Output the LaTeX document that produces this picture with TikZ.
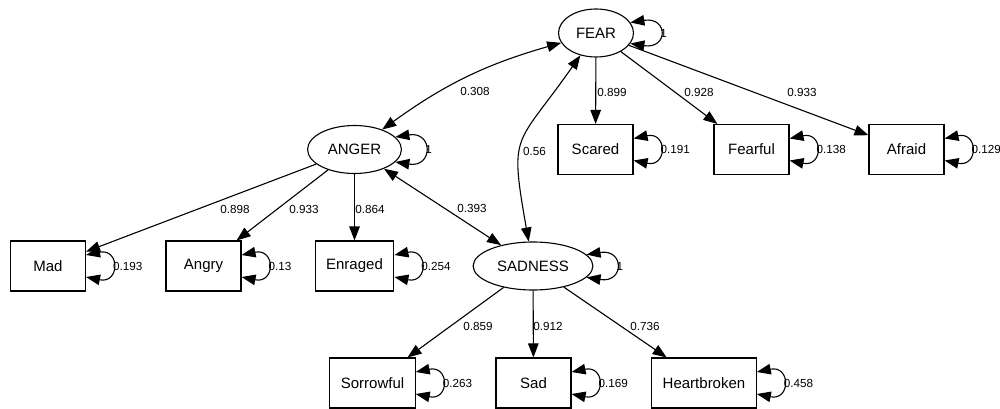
\documentclass[tikz,border=0pt]{standalone}
\usepackage{fontspec}
\setmainfont{Liberation Sans}
\usetikzlibrary{shapes, arrows.meta, positioning, calc}

\begin{document}
\begin{tikzpicture}[x=1pt, y=-1pt, line width=1.1pt,
    >={Triangle[length=14pt, width=10.5pt]},
    latent/.style={ellipse, draw, minimum height=48pt, inner xsep=6.5pt, font=\fontsize{15}{18}\selectfont},
    item/.style={rectangle, draw, minimum width=75pt, minimum height=50pt, inner xsep=11pt, font=\fontsize{15}{18}\selectfont},
    coef/.style={font=\fontsize{11.7}{14}\selectfont, inner sep=1pt}]
                \fill[white] (0,0) rectangle (1000,409);
                \useasboundingbox (0,0) rectangle (1000,409);
                % latent factors
                \node[latent] (fear) at (596,33) {FEAR};
                \node[latent] (anger) at (354.5,149.5) {ANGER};
                \node[latent] (sadness) at (533,266) {SADNESS};
                % indicators
                \node[item] (scared) at (595.5,149.5) {Scared};
                \node[item] (fearful) at (751.5,149.5) {Fearful};
                \node[item] (afraid) at (906.5,149.5) {Afraid};
                \node[item] (mad) at (48,266) {Mad};
                \node[item] (angry) at (203.5,266) {Angry};
                \node[item] (enraged) at (354.5,266) {Enraged};
                \node[item] (sorrowful) at (372.5,383) {Sorrowful};
                \node[item] (sad) at (533.5,383) {Sad};
                \node[item] (heartbroken) at (704,383) {Heartbroken};
                % covariances
                \draw[<->] (anger) to[bend left=10] (fear);
                \draw[<->] (sadness) to[out=100, in=235, looseness=1.5] (fear);
                \draw[<->] (anger) -- (sadness);
                % loadings
                \draw[->] (fear) -- (scared);
                \draw[->] (fear) -- (fearful);
                \draw[->] (fear) -- (afraid);
                \draw[->] (anger) -- (mad);
                \draw[->] (anger) -- (angry);
                \draw[->] (anger) -- (enraged);
                \draw[->] (sadness) -- (sorrowful);
                \draw[->] (sadness) -- (sad);
                \draw[->] (sadness) -- (heartbroken);
                \node[coef] (c308) at (475,91) {0.308};
                \node[coef] (c56) at (534.5,151) {0.56};
                \node[coef] (c899) at (612,92) {0.899};
                \node[coef] (c928) at (699,92) {0.928};
                \node[coef] (c933f) at (802,92) {0.933};
                \node[coef] (c898) at (235,209) {0.898};
                \node[coef] (c933a) at (304,209) {0.933};
                \node[coef] (c864) at (370,209) {0.864};
                \node[coef] (c393) at (472,208) {0.393};
                \node[coef] (c859) at (478,326) {0.859};
                \node[coef] (c912) at (548,326) {0.912};
                \node[coef] (c736) at (645,326) {0.736};
                % variances
                \draw[<->] (fear.17) .. controls +(38pt,6pt) and +(38pt,-6pt) .. (fear.-17) node[pos=0.5, coef, anchor=west] {1};
                \draw[<->] (anger.17) .. controls +(38pt,6pt) and +(38pt,-6pt) .. (anger.-17) node[pos=0.5, coef, anchor=west] {1};
                \draw[<->] (sadness.12) .. controls +(38pt,6pt) and +(38pt,-6pt) .. (sadness.-12) node[pos=0.5, coef, anchor=west] {1};
                \draw[<->] ([yshift=11pt]scared.east) .. controls +(34pt,7pt) and +(34pt,-7pt) .. ([yshift=-11pt]scared.east) node[pos=0.5, coef, anchor=west] {0.191};
                \draw[<->] ([yshift=11pt]fearful.east) .. controls +(34pt,7pt) and +(34pt,-7pt) .. ([yshift=-11pt]fearful.east) node[pos=0.5, coef, anchor=west] {0.138};
                \draw[<->] ([yshift=11pt]afraid.east) .. controls +(34pt,7pt) and +(34pt,-7pt) .. ([yshift=-11pt]afraid.east) node[pos=0.5, coef, anchor=west] {0.129};
                \draw[<->] ([yshift=11pt]mad.east) .. controls +(34pt,7pt) and +(34pt,-7pt) .. ([yshift=-11pt]mad.east) node[pos=0.5, coef, anchor=west] {0.193};
                \draw[<->] ([yshift=11pt]angry.east) .. controls +(34pt,7pt) and +(34pt,-7pt) .. ([yshift=-11pt]angry.east) node[pos=0.5, coef, anchor=west] {0.13};
                \draw[<->] ([yshift=11pt]enraged.east) .. controls +(34pt,7pt) and +(34pt,-7pt) .. ([yshift=-11pt]enraged.east) node[pos=0.5, coef, anchor=west] {0.254};
                \draw[<->] ([yshift=11pt]sorrowful.east) .. controls +(34pt,7pt) and +(34pt,-7pt) .. ([yshift=-11pt]sorrowful.east) node[pos=0.5, coef, anchor=west] {0.263};
                \draw[<->] ([yshift=11pt]sad.east) .. controls +(34pt,7pt) and +(34pt,-7pt) .. ([yshift=-11pt]sad.east) node[pos=0.5, coef, anchor=west] {0.169};
                \draw[<->] ([yshift=11pt]heartbroken.east) .. controls +(34pt,7pt) and +(34pt,-7pt) .. ([yshift=-11pt]heartbroken.east) node[pos=0.5, coef, anchor=west] {0.458};
            \end{tikzpicture}
\end{document}
